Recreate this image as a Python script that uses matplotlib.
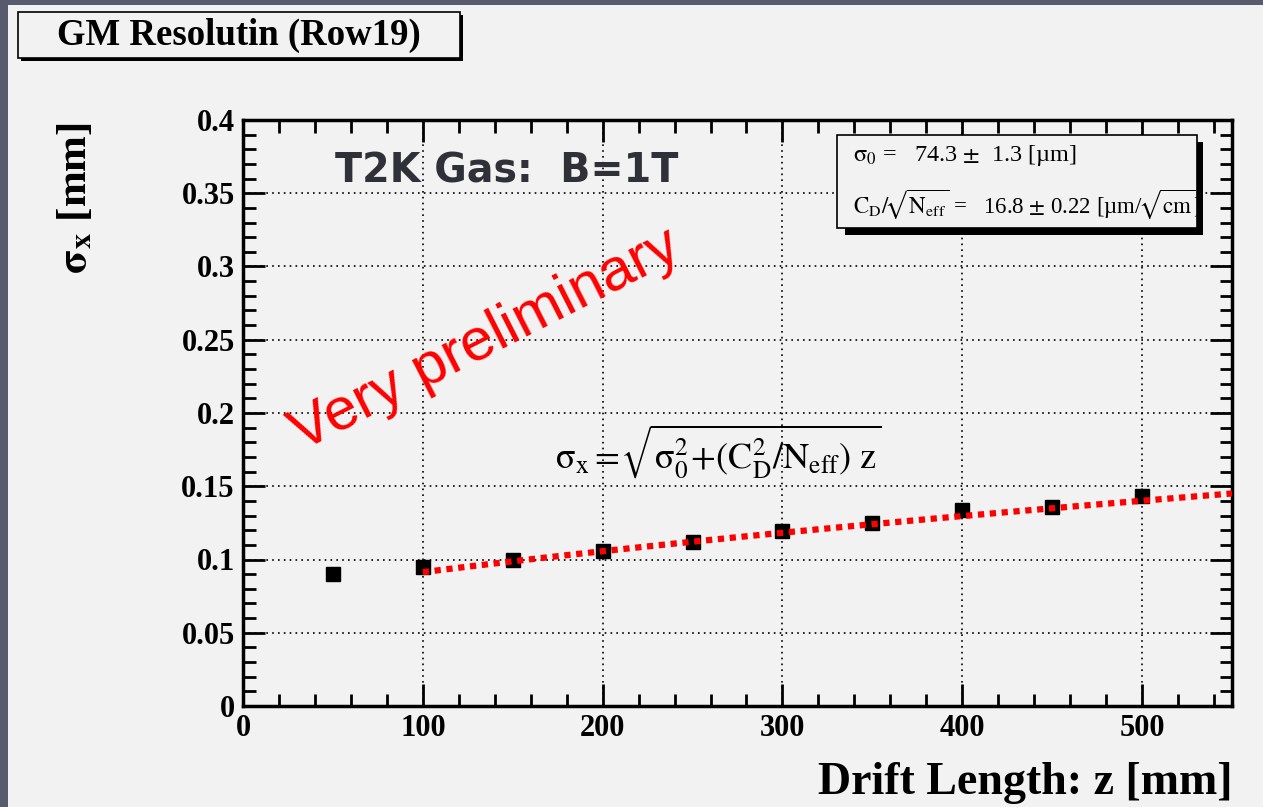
import numpy as np
import matplotlib
matplotlib.use("Agg")
import matplotlib.pyplot as plt
from matplotlib.patches import Rectangle

plt.rcParams['mathtext.fontset'] = 'stix'
plt.rcParams['font.family'] = 'Liberation Serif'

# measured resolution, row 19
drift_mm = [50, 100, 150, 200, 250, 300, 350, 400, 450, 500]
sigma_mm = [0.090, 0.095, 0.0995, 0.106, 0.112, 0.1195, 0.125, 0.134, 0.136, 0.1435]

# fit result
sigma0_um = 74.3
cd_um_sqrtcm = 16.8
fit_range = [100, 550]

W, H = 1263, 807
fig = plt.figure(figsize=(W / 100, H / 100), dpi=100, facecolor='#585a6e')

def px(x0, y0, x1, y1):
    # figure pixel box (top-left origin) -> figure fraction rect
    return (x0 / W, 1 - y1 / H, (x1 - x0) / W, (y1 - y0) / H)

def box(x0, y0, x1, y1, **kw):
    r = px(x0, y0, x1, y1)
    fig.patches.append(Rectangle(r[:2], r[2], r[3], transform=fig.transFigure, **kw))

# light panel
box(8, 5, W, H, facecolor='#f2f2f2', edgecolor='none', zorder=-1)

ax = fig.add_axes(px(243, 120, 1232, 706))
ax.set_zorder(1)
ax.set_facecolor('#f2f2f2')

z = np.linspace(fit_range[0], fit_range[1], 200)
fit = np.sqrt(sigma0_um ** 2 + cd_um_sqrtcm ** 2 * z / 10.0) / 1000.0

ax.plot(drift_mm, sigma_mm, 's', color='black', markersize=10, zorder=3)
ax.plot(z, fit, color='red', lw=4.5, linestyle=(0, (1, 0.9)), zorder=4)

ax.set_xlim(0, 550)
ax.set_ylim(0, 0.4)
ax.set_xticks(np.arange(0, 501, 100))
ax.set_xticks(np.arange(0, 551, 20), minor=True)
ax.set_yticks(np.arange(0, 0.401, 0.05))
ax.set_yticks(np.arange(0, 0.401, 0.01), minor=True)
ax.set_yticklabels(['0', '0.05', '0.1', '0.15', '0.2', '0.25', '0.3', '0.35', '0.4'])
ax.grid(True, which='major', color='black', linestyle=(0, (1, 2.5)), lw=1.2)
ax.tick_params(which='both', direction='in', top=True, right=True, width=2)
ax.tick_params(which='major', length=16, labelsize=22, pad=6)
ax.tick_params(which='minor', length=9)
for lab in ax.get_xticklabels() + ax.get_yticklabels():
    lab.set_fontweight('bold')
for s in ax.spines.values():
    s.set_linewidth(2.5)

ax.text(0.093, 0.912, 'T2K Gas:  B=1T', transform=ax.transAxes,
        fontsize=28.5, fontweight='bold', color='#303038', family='DejaVu Sans',
        va='center')
ax.text(0.245, 0.625, 'Very preliminary', transform=ax.transAxes,
        fontsize=43, color='red', family='Liberation Sans', rotation=27,
        ha='center', va='center')
ax.text(0.315, 0.435,
        r'$\mathrm{\sigma}_{\rm x} = \!\sqrt{\mathrm{\sigma}_0^2\!+\!(\mathrm{C}_\mathrm{D}^2/\mathrm{N}_{\rm eff})\ \mathrm{z}}$',
        transform=ax.transAxes, fontsize=26, va='center')

# title box with shadow
box(21, 15, 463, 61, facecolor='black', edgecolor='none', zorder=1)
box(18, 12, 460, 58, facecolor='#f2f2f2', edgecolor='black', lw=1.2, zorder=2)
fig.text(239 / W, 1 - 35 / H, 'GM Resolutin (Row19)', fontsize=26.5,
         fontweight='bold', ha='center', va='center', zorder=3)

# stats box with shadow
box(845, 142, 1203, 235, facecolor='black', edgecolor='none', zorder=5)
box(837, 135, 1197, 228, facecolor='#f2f2f2', edgecolor='black', lw=1.2, zorder=6)
fig.text(853 / W, 1 - 156 / H,
         r'$\mathrm{\sigma}_0$ =   %.1f $\pm$  %.1f [µm]' % (sigma0_um, 1.3),
         fontsize=17.5, va='center', zorder=7)
fig.text(853 / W, 1 - 205 / H,
         r'$\mathrm{C}_\mathrm{D}/\!\sqrt{\mathrm{N}_{\rm eff}}$ =   %.1f $\pm$ %.2f [µm/$\!\sqrt{\rm cm}$]'
         % (cd_um_sqrtcm, 0.22),
         fontsize=16.5, va='center', zorder=7)

fig.text(75 / W, 1 - 198 / H, r'$\mathbf{\sigma_x}$ [mm]', fontsize=31,
         fontweight='bold', rotation=90, ha='center', va='center')
fig.text(1232 / W, 1 - 783 / H, 'Drift Length: z [mm]', fontsize=33,
         fontweight='bold', ha='right', va='center')

fig.savefig('out.png', dpi=100, facecolor=fig.get_facecolor())
